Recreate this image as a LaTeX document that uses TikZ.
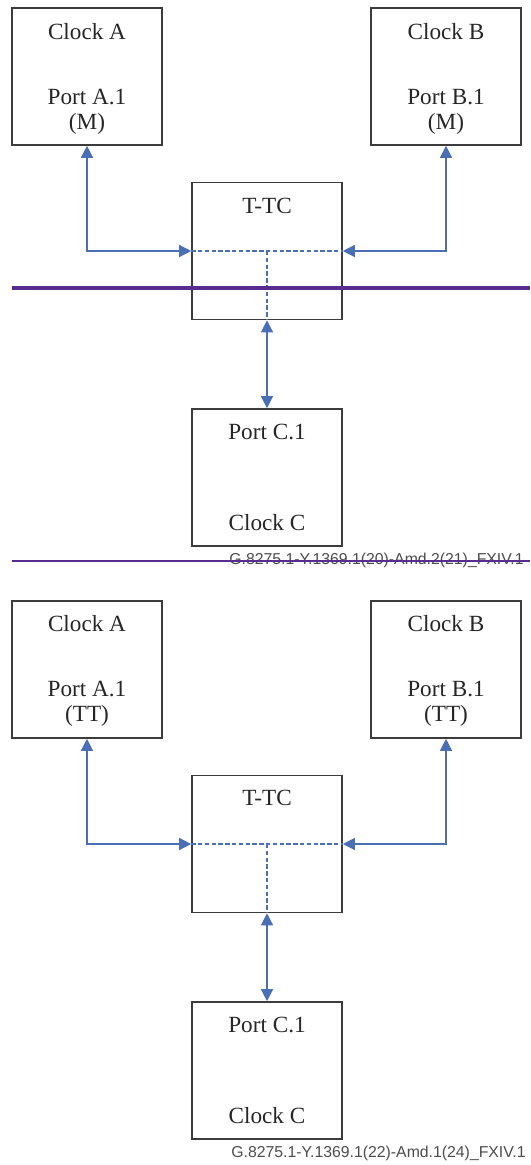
\documentclass[tikz,border=0pt]{standalone}
\usepackage{fontspec}
\setmainfont{Liberation Serif}
\newfontfamily\capfont{Liberation Sans}
\usetikzlibrary{arrows.meta}

\definecolor{linkblue}{HTML}{4A6FB5}
\definecolor{boxgray}{HTML}{3C3C3C}
\definecolor{markpurple}{HTML}{5B2C8F}

\tikzset{
  clockbox/.style={draw=boxgray, line width=0.8pt, minimum width=75pt, minimum height=68.5pt, inner sep=0pt},
  boxtext/.style={font=\fontsize{11.6}{13}\selectfont, inner sep=0pt, text=black!85},
  conn/.style={draw=linkblue, line width=0.65pt, {Triangle[width=6pt,length=6pt]}-{Triangle[width=6pt,length=6pt]}},
  inner/.style={draw=linkblue, line width=1pt, dash pattern=on 2.2pt off 1.2pt},
  figref/.style={font=\capfont\fontsize{7.9}{9}\selectfont, text=black!70, inner sep=0pt, anchor=west},
}

\begin{document}
\begin{tikzpicture}[x=0.5pt,y=-0.5pt]

    \useasboundingbox (0,0) rectangle (530,1165);

    % top panel
    \node[clockbox] (clkA) at (87,76.5) {};
    \node[clockbox] (clkB) at (446,76.5) {};
    \node[clockbox] (ttc) at (267,251) {};
    \node[clockbox] (portC) at (267,477.5) {};

    \node[boxtext] (clkAname) at (87,32) {Clock A};
    \node[boxtext] (clkAport) at (87,97) {Port A.1};
    \node[boxtext] (clkArole) at (87,124) {(M)};
    \node[boxtext] (clkBname) at (446,32) {Clock B};
    \node[boxtext] (clkBport) at (446,97) {Port B.1};
    \node[boxtext] (clkBrole) at (446,124) {(M)};
    \node[boxtext] (ttcname) at (267,206) {T-TC};
    \node[boxtext] (portCport) at (267,432) {Port C.1};
    \node[boxtext] (portCname) at (267,523) {Clock C};

    \draw[inner] (ttc.west) -- (ttc.east);
    \draw[inner] (ttc.center) -- (ttc.south);

    \draw[conn] (clkA.south) |- (ttc.west);
    \draw[conn] (clkB.south) |- (ttc.east);
    \draw[conn] (ttc.south) -- (portC.north);

    \node[figref] (figA) at (229,560) {G.8275.1-Y.1369.1(20)-Amd.2(21)\_FXIV.1};

    % purple marks
    \coordinate (MarkA_L) at (12,288) ;
    \coordinate (MarkA_R) at (530,288) ;
    \coordinate (MarkB_L) at (12,561) ;
    \coordinate (MarkB_R) at (530,561) ;
    \draw[markpurple,line width=2pt] (MarkA_L) -- (MarkA_R) ;
    \draw[markpurple,line width=0.8pt] (MarkB_L) -- (MarkB_R) ;

    % bottom panel
    \node[clockbox] (clkA2) at (87,669.5) {};
    \node[clockbox] (clkB2) at (446,669.5) {};
    \node[clockbox] (ttc2) at (267,844) {};
    \node[clockbox] (portC2) at (267,1070.5) {};

    \node[boxtext] (clkAname2) at (87,624) {Clock A};
    \node[boxtext] (clkAport2) at (87,689) {Port A.1};
    \node[boxtext] (clkArole2) at (87,716) {(TT)};
    \node[boxtext] (clkBname2) at (446,624) {Clock B};
    \node[boxtext] (clkBport2) at (446,689) {Port B.1};
    \node[boxtext] (clkBrole2) at (446,716) {(TT)};
    \node[boxtext] (ttcname2) at (267,798) {T-TC};
    \node[boxtext] (portCport2) at (267,1025) {Port C.1};
    \node[boxtext] (portCname2) at (267,1116) {Clock C};

    \draw[inner] (ttc2.west) -- (ttc2.east);
    \draw[inner] (ttc2.center) -- (ttc2.south);

    \draw[conn] (clkA2.south) |- (ttc2.west);
    \draw[conn] (clkB2.south) |- (ttc2.east);
    \draw[conn] (ttc2.south) -- (portC2.north);

    \node[figref] (figB) at (231,1153) {G.8275.1-Y.1369.1(22)-Amd.1(24)\_FXIV.1};

\end{tikzpicture}
\end{document}
